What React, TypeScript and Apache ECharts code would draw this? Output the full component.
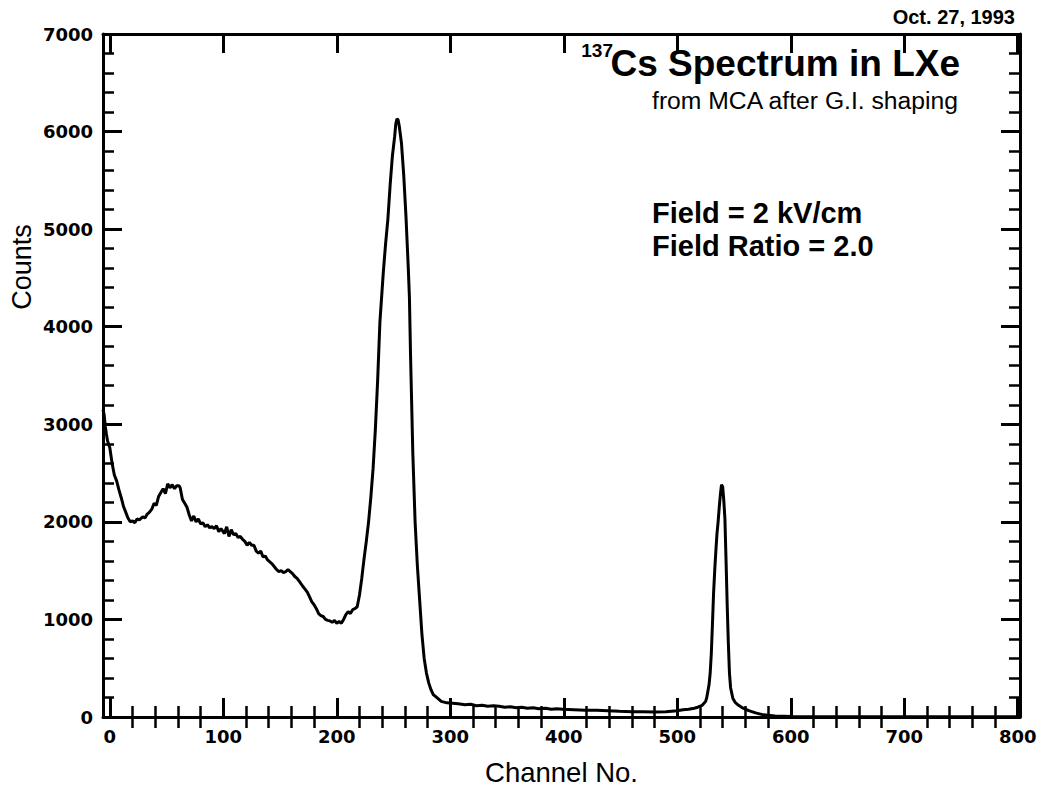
import React, { useEffect, useRef } from "react";
import * as echarts from "echarts";

const channels = [
  -6, -5, -4, -3, -2, 0, 2, 4, 6, 8, 10, 12, 14, 16, 18, 20, 22, 24, 26, 29, 31, 33,
  35, 37, 39, 41, 43, 45, 47, 49, 51, 53, 55, 57, 59, 61, 62, 64, 66, 68, 70, 72,
  74, 76, 78, 80, 82, 84, 86, 88, 90, 92, 94, 96, 98, 101, 103, 105, 107, 109,
  111, 113, 115, 117, 119, 121, 123, 125, 127, 129, 131, 133, 135, 137, 139, 141,
  143, 145, 147, 149, 151, 153, 155, 157, 159, 161, 163, 165, 167, 170, 172, 174,
  176, 178, 180, 182, 184, 186, 188, 190, 192, 194, 196, 198, 200, 202, 204, 206,
  208, 210, 212, 214, 216, 218, 220, 222, 224, 226, 228, 230, 232, 234, 236, 238,
  241, 243, 245, 247, 249, 251, 252, 253, 254, 255, 257, 259, 261, 263, 264, 265,
  266, 267, 269, 271, 273, 275, 277, 279, 281, 283, 285, 288, 292, 297, 302, 307,
  313, 318, 323, 328, 333, 338, 343, 348, 353, 358, 363, 368, 373, 378, 384, 389,
  394, 399, 409, 419, 429, 439, 449, 460, 470, 480, 490, 500, 505, 510, 515, 518,
  522, 525, 526, 528, 529, 530, 531, 532, 533, 534, 535, 536, 537, 538, 539, 540,
  541, 542, 543, 544, 545, 546, 547, 549, 551, 554, 558, 563, 569, 576, 586, 602,
  652, 702, 752, 802,
];

const counts = [
  3150, 3100, 2980, 2900, 2830, 2760, 2600, 2480, 2420, 2330, 2250, 2160, 2100, 2040, 2000, 2010, 1990, 2030, 2020, 2050, 2040, 2080,
  2100, 2130, 2190, 2170, 2260, 2300, 2340, 2290, 2390, 2350, 2380, 2340, 2370, 2370, 2350, 2230, 2190, 2150, 2070, 2010,
  2060, 2000, 2030, 1980, 1990, 1950, 1970, 1940, 1950, 1930, 1960, 1900, 1930, 1880, 1950, 1850, 1920, 1870,
  1880, 1840, 1850, 1820, 1800, 1760, 1790, 1760, 1760, 1700, 1680, 1700, 1640, 1650, 1610, 1590,
  1570, 1540, 1510, 1490, 1500, 1480, 1490, 1510, 1490, 1470, 1440, 1420, 1390, 1340, 1310, 1280,
  1230, 1180, 1150, 1110, 1060, 1040, 1030, 1000, 990, 985, 970, 990, 960, 980, 960, 1000,
  1050, 1080, 1060, 1100, 1110, 1130, 1250, 1420, 1620, 1800, 2000, 2250, 2550, 2950, 3450, 4050,
  4560, 4850, 5100, 5450, 5750, 5950, 6080, 6130, 6120, 6060, 5880, 5550, 5120, 4600, 4300, 3700,
  3200, 2700, 2000, 1550, 1200, 850, 600, 450, 350, 280, 230, 200, 160, 145, 140, 135,
  125, 130, 115, 120, 110, 115, 110, 100, 105, 95, 100, 90, 95, 85, 90, 80,
  85, 80, 75, 70, 70, 65, 60, 55, 55, 50, 55, 65, 75, 80, 90, 100,
  120, 160, 200, 330, 450, 650, 950, 1270, 1500, 1700, 1880, 2000, 2150, 2280, 2380, 2360,
  2220, 2030, 1600, 1150, 760, 450, 300, 190, 150, 120, 90, 65, 42, 22, 10, 5,
  2, 2, 2, 2,
];

const xRange = { min: -6, max: 802 };
const xMajorTicks = [0, 100, 200, 300, 400, 500, 600, 700, 800];
const xMinorTicks = [
  20, 40, 60, 80, 120, 140, 160, 180, 220, 240, 260, 280, 320, 340, 360, 380,
  420, 440, 460, 480, 520, 540, 560, 580, 620, 640, 660, 680, 720, 740, 760, 780,
];
const yTicks = { min: 0, max: 7000, interval: 1000 };

const titleMain = "Cs Spectrum in LXe";
const titleSup = "137";
const subtitle = "from MCA after G.I. shaping";
const note1 = "Field = 2 kV/cm";
const note2 = "Field Ratio = 2.0";
const dateText = "Oct. 27, 1993";
const xName = "Channel No.";
const yName = "Counts";

export default function App() {
  const ref = useRef<HTMLDivElement>(null);
  useEffect(() => {
    if (!ref.current) return;
    const chart = echarts.init(ref.current, null, { renderer: "svg" });
    const data = channels.map((c, i) => [c, counts[i]]);
    const black = "#000";
    const tickLabel = {
      fontFamily: "DejaVu Sans",
      fontWeight: "bold" as const,
      fontSize: 18,
      color: black,
      formatter: (v: number) => String(v),
    };
    const majorTick = { show: true, inside: true, length: 19, lineStyle: { color: black, width: 3 } };
    const minorTickStyle = { show: true, inside: true, length: 11, lineStyle: { color: black, width: 2.5 } };
    const xMajor = (position: string, extra: any) => ({
      type: "value",
      position,
      ...xRange,
      axisLine: { show: true, onZero: false, lineStyle: { color: black, width: 3 } },
      axisTick: { ...majorTick, customValues: xMajorTicks },
      splitLine: { show: false },
      ...extra,
    });
    const xMinor = (position: string) => ({
      type: "value",
      position,
      ...xRange,
      axisLine: { show: false },
      axisTick: { ...minorTickStyle, customValues: xMinorTicks },
      axisLabel: { show: false },
      splitLine: { show: false },
    });
    const yAx = (position: string, extra: any) => ({
      type: "value",
      position,
      ...yTicks,
      axisLine: { show: true, onZero: false, lineStyle: { color: black, width: 3 } },
      axisTick: majorTick,
      minorTick: { show: true, splitNumber: 5, length: 11, lineStyle: { color: black, width: 2.5 } },
      splitLine: { show: false },
      minorSplitLine: { show: false },
      ...extra,
    });
    chart.setOption({
      animation: false,
      backgroundColor: "#fff",
      grid: {
        left: 103,
        right: 26,
        top: 34,
        bottom: 82,
        containLabel: false,
        outerBoundsMode: "none",
      },
      xAxis: [
        xMajor("bottom", {
          axisLabel: { ...tickLabel, margin: 10, customValues: xMajorTicks },
          name: xName,
          nameLocation: "middle",
          nameGap: 41,
          nameTextStyle: { fontFamily: "Liberation Sans", fontSize: 27.5, color: black },
        }),
        xMajor("top", { axisLabel: { show: false } }),
        xMinor("bottom"),
        xMinor("top"),
      ],
      yAxis: [
        yAx("left", { axisLabel: { ...tickLabel, margin: 10 } }),
        yAx("right", { axisLabel: { show: false } }),
      ],
      series: [
        {
          type: "line",
          xAxisIndex: 0,
          yAxisIndex: 0,
          data,
          showSymbol: false,
          symbol: "none",
          lineStyle: { color: black, width: 3 },
          z: 3,
        },
      ],
      graphic: [
        {
          type: "text",
          x: 22,
          y: 267,
          rotation: Math.PI / 2,
          style: {
            text: yName,
            align: "center",
            verticalAlign: "middle",
            fontFamily: "Liberation Sans",
            fontSize: 27,
            fill: black,
          },
        },
        {
          type: "text",
          x: 1015,
          y: 17,
          style: {
            text: dateText,
            align: "right",
            verticalAlign: "middle",
            fontFamily: "Liberation Sans",
            fontWeight: "bold",
            fontSize: 20,
            fill: black,
          },
        },
        {
          type: "text",
          x: 960,
          y: 63,
          style: {
            text: titleMain,
            align: "right",
            verticalAlign: "middle",
            fontFamily: "Liberation Sans",
            fontWeight: "bold",
            fontSize: 37,
            fill: black,
          },
        },
        {
          type: "text",
          x: 613,
          y: 50,
          style: {
            text: titleSup,
            align: "right",
            verticalAlign: "middle",
            fontFamily: "Liberation Sans",
            fontWeight: "bold",
            fontSize: 19,
            fill: black,
          },
        },
        {
          type: "text",
          x: 958,
          y: 100,
          style: {
            text: subtitle,
            align: "right",
            verticalAlign: "middle",
            fontFamily: "Liberation Sans",
            fontSize: 24.7,
            fill: black,
          },
        },
        {
          type: "text",
          x: 652,
          y: 213,
          style: {
            text: note1,
            align: "left",
            verticalAlign: "middle",
            fontFamily: "Liberation Sans",
            fontWeight: "bold",
            fontSize: 29,
            fill: black,
          },
        },
        {
          type: "text",
          x: 652,
          y: 246,
          style: {
            text: note2,
            align: "left",
            verticalAlign: "middle",
            fontFamily: "Liberation Sans",
            fontWeight: "bold",
            fontSize: 29,
            fill: black,
          },
        },
      ],
    });
    return () => chart.dispose();
  }, []);
  return (
    <div
      ref={ref}
      style={{ position: "absolute", left: 0, top: 0, width: 1046, height: 799, background: "#fff" }}
    />
  );
}
